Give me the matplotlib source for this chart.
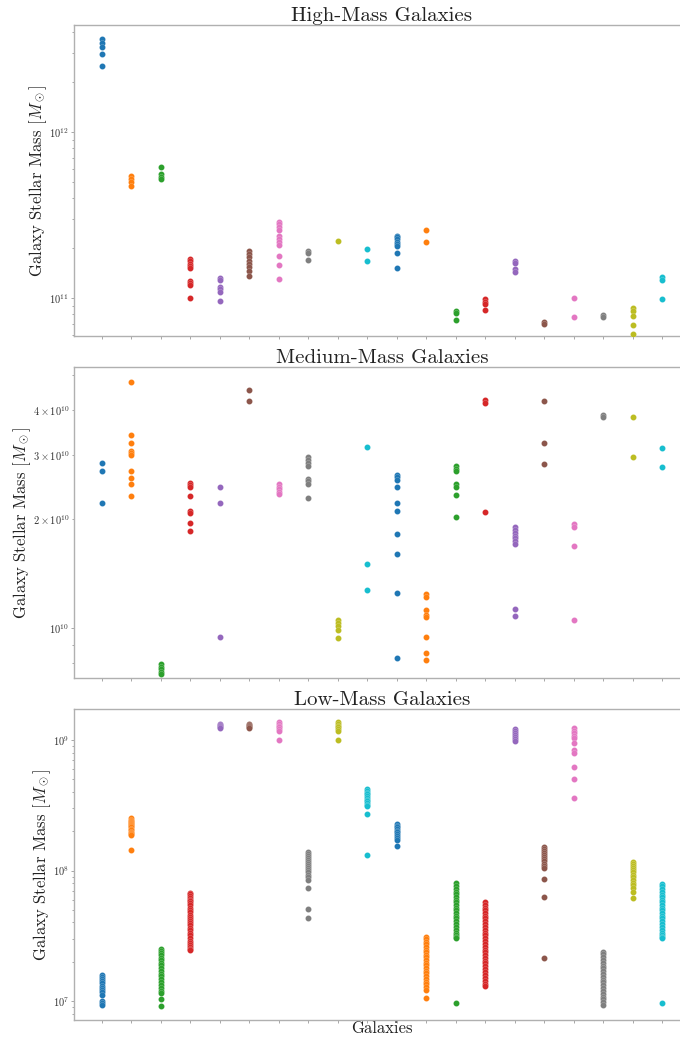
import numpy as np
import matplotlib
matplotlib.use("Agg")
import matplotlib.pyplot as plt

plt.rcParams['font.family'] = 'serif'
plt.rcParams['font.serif'] = ['cmr10', 'DejaVu Serif']
plt.rcParams['mathtext.fontset'] = 'cm'
plt.rcParams['axes.formatter.use_mathtext'] = True
plt.rcParams['axes.unicode_minus'] = False

titles = ["High-Mass Galaxies", "Medium-Mass Galaxies", "Low-Mass Galaxies"]
ylabel = r"Galaxy Stellar Mass [$M_\odot$]"

# stellar masses per galaxy (one list per galaxy)
high_mass = [
    [3.61e12, 3.42e12, 3.27e12, 2.94e12, 2.51e12],
    [5.46e11, 5.19e11, 4.98e11, 4.75e11],
    [6.15e11, 5.58e11, 5.38e11, 5.21e11],
    [1.71e11, 1.66e11, 1.60e11, 1.55e11, 1.51e11, 1.27e11, 1.23e11, 1.19e11, 1.0e11],
    [1.32e11, 1.28e11, 1.16e11, 1.13e11, 1.09e11, 9.6e10],
    [1.92e11, 1.84e11, 1.76e11, 1.68e11, 1.60e11, 1.53e11, 1.46e11, 1.35e11],
    [2.88e11, 2.78e11, 2.68e11, 2.57e11, 2.37e11, 2.28e11, 2.18e11, 2.08e11, 1.79e11, 1.58e11, 1.30e11],
    [1.92e11, 1.86e11, 1.69e11],
    [2.20e11],
    [1.98e11, 1.66e11],
    [2.37e11, 2.32e11, 2.26e11, 2.18e11, 2.11e11, 2.05e11, 1.87e11, 1.52e11],
    [2.57e11, 2.17e11],
    [8.38e10, 8.15e10, 7.36e10],
    [9.82e10, 9.5e10, 9.2e10, 8.43e10],
    [1.68e11, 1.62e11, 1.50e11, 1.44e11],
    [7.15e10, 6.97e10],
    [1.0e11, 7.7e10],
    [7.91e10, 7.72e10],
    [8.67e10, 8.38e10, 7.80e10, 6.90e10, 6.04e10],
    [1.33e11, 1.28e11, 9.86e10],
]

medium_mass = [
    [2.86e10, 2.72e10, 2.21e10],
    [4.78e10, 3.41e10, 3.24e10, 3.09e10, 3.04e10, 3.01e10, 2.72e10, 2.60e10, 2.50e10, 2.31e10],
    [7.94e9, 7.82e9, 7.69e9, 7.56e9, 7.46e9],
    [2.52e10, 2.49e10, 2.45e10, 2.32e10, 2.11e10, 2.08e10, 1.95e10, 1.85e10],
    [2.46e10, 2.22e10, 9.46e9],
    [4.54e10, 4.24e10],
    [2.50e10, 2.46e10, 2.42e10, 2.38e10, 2.34e10],
    [2.97e10, 2.91e10, 2.86e10, 2.81e10, 2.58e10, 2.54e10, 2.50e10, 2.29e10],
    [1.05e10, 1.03e10, 1.01e10, 9.87e9, 9.36e9],
    [3.16e10, 1.50e10, 1.27e10],
    [2.64e10, 2.61e10, 2.57e10, 2.46e10, 2.21e10, 2.11e10, 1.82e10, 1.60e10, 1.25e10, 8.28e9],
    [1.24e10, 1.22e10, 1.12e10, 1.09e10, 1.07e10, 9.46e9, 8.51e9, 8.15e9],
    [2.80e10, 2.75e10, 2.71e10, 2.50e10, 2.46e10, 2.33e10, 2.03e10],
    [4.26e10, 4.19e10, 2.09e10],
    [1.90e10, 1.86e10, 1.83e10, 1.80e10, 1.77e10, 1.74e10, 1.71e10, 1.13e10, 1.08e10],
    [4.24e10, 3.24e10, 2.83e10],
    [1.94e10, 1.90e10, 1.69e10, 1.05e10],
    [3.88e10, 3.82e10],
    [3.82e10, 2.97e10],
    [3.14e10, 2.79e10],
]

low_mass = [
    [1.57e7, 1.52e7, 1.47e7, 1.42e7, 1.37e7, 1.31e7, 1.26e7, 1.21e7, 1.17e7, 1.12e7, 1.0e7, 9.7e6, 9.4e6],
    [2.51e8, 2.46e8, 2.42e8, 2.37e8, 2.33e8, 2.28e8, 2.24e8, 2.19e8, 2.14e8, 2.09e8, 2.04e8, 1.99e8,
     1.94e8, 1.90e8, 1.87e8, 1.45e8],
    [2.52e7, 2.42e7, 2.33e7, 2.24e7, 2.15e7, 2.06e7, 1.97e7, 1.88e7, 1.79e7, 1.70e7, 1.62e7, 1.55e7,
     1.47e7, 1.40e7, 1.33e7, 1.26e7, 1.20e7, 1.16e7, 1.03e7, 9.2e6],
    [6.76e7, 6.6e7, 6.4e7, 6.2e7, 6.0e7, 5.8e7, 5.6e7, 5.4e7, 5.2e7, 5.0e7, 4.8e7, 4.6e7, 4.4e7,
     4.25e7, 4.1e7, 3.95e7, 3.8e7, 3.65e7, 3.5e7, 3.35e7, 3.2e7, 3.05e7, 2.9e7, 2.8e7, 2.7e7, 2.6e7,
     2.52e7, 2.46e7],
    [1.34e9, 1.31e9, 1.28e9, 1.26e9, 1.24e9],
    [1.34e9, 1.31e9, 1.29e9, 1.26e9, 1.24e9],
    [1.37e9, 1.33e9, 1.29e9, 1.25e9, 1.21e9, 1.18e9, 1.0e9],
    [1.39e8, 1.34e8, 1.29e8, 1.25e8, 1.21e8, 1.17e8, 1.13e8, 1.09e8, 1.05e8, 1.01e8, 9.7e7, 9.3e7,
     8.9e7, 8.45e7, 7.3e7, 5.05e7, 4.3e7],
    [1.37e9, 1.33e9, 1.29e9, 1.25e9, 1.21e9, 1.18e9, 1.0e9],
    [4.19e8, 4.07e8, 3.95e8, 3.83e8, 3.72e8, 3.6e8, 3.5e8, 3.4e8, 3.3e8, 3.2e8, 3.12e8, 2.7e8, 1.31e8],
    [2.26e8, 2.2e8, 2.14e8, 2.08e8, 2.02e8, 1.96e8, 1.9e8, 1.84e8, 1.78e8, 1.71e8, 1.53e8],
    [3.11e7, 2.98e7, 2.85e7, 2.72e7, 2.6e7, 2.48e7, 2.37e7, 2.26e7, 2.16e7, 2.06e7, 1.97e7, 1.88e7,
     1.79e7, 1.71e7, 1.63e7, 1.55e7, 1.48e7, 1.41e7, 1.34e7, 1.27e7, 1.21e7, 1.05e7],
    [7.98e7, 7.6e7, 7.25e7, 6.9e7, 6.6e7, 6.3e7, 6.0e7, 5.7e7, 5.45e7, 5.2e7, 4.95e7, 4.7e7, 4.5e7,
     4.3e7, 4.1e7, 3.9e7, 3.7e7, 3.5e7, 3.35e7, 3.2e7, 3.1e7, 3.02e7, 9.6e6],
    [5.7e7, 5.45e7, 5.2e7, 4.95e7, 4.7e7, 4.5e7, 4.3e7, 4.1e7, 3.9e7, 3.7e7, 3.5e7, 3.35e7, 3.2e7,
     3.05e7, 2.9e7, 2.75e7, 2.6e7, 2.48e7, 2.36e7, 2.25e7, 2.14e7, 2.04e7, 1.94e7, 1.84e7, 1.75e7,
     1.66e7, 1.58e7, 1.5e7, 1.42e7, 1.36e7, 1.3e7],
    [1.21e9, 1.17e9, 1.13e9, 1.09e9, 1.05e9, 1.02e9, 9.9e8],
    [1.52e8, 1.47e8, 1.42e8, 1.37e8, 1.32e8, 1.27e8, 1.22e8, 1.18e8, 1.13e8, 1.09e8, 1.04e8, 8.6e7,
     6.3e7, 2.15e7],
    [1.23e9, 1.18e9, 1.13e9, 1.07e9, 1.03e9, 9.5e8, 8.4e8, 8.0e8, 6.2e8, 5.0e8, 3.57e8],
    [2.39e7, 2.28e7, 2.17e7, 2.07e7, 1.97e7, 1.87e7, 1.78e7, 1.70e7, 1.62e7, 1.54e7, 1.46e7, 1.39e7,
     1.32e7, 1.25e7, 1.19e7, 1.13e7, 1.08e7, 1.03e7, 9.8e6, 9.3e6],
    [1.17e8, 1.13e8, 1.09e8, 1.05e8, 1.01e8, 9.7e7, 9.3e7, 8.9e7, 8.5e7, 8.1e7, 7.7e7, 7.3e7, 6.9e7, 6.2e7],
    [7.95e7, 7.55e7, 7.2e7, 6.85e7, 6.55e7, 6.25e7, 5.95e7, 5.7e7, 5.45e7, 5.2e7, 4.95e7, 4.7e7, 4.5e7,
     4.3e7, 4.1e7, 3.9e7, 3.7e7, 3.5e7, 3.35e7, 3.2e7, 3.1e7, 3.02e7, 9.6e6],
]

panels = [high_mass, medium_mass, low_mass]
ylims = [(5.9e10, 4.41e12), (7.28e9, 5.26e10), (7.15e6, 1.73e9)]
bottoms = [0.6769, 0.3481, 0.0192]

fig = plt.figure(figsize=(6.8, 10.4), dpi=100)

for k, data in enumerate(panels):
    ax = fig.add_axes([0.1088, bottoms[k], 0.906, 0.299])
    for i, vals in enumerate(data):
        ax.scatter([i] * len(vals), vals, color=f"C{i % 10}", s=19,
                   edgecolors="white", linewidths=0.12, zorder=3)
    ax.set_yscale("log")
    ax.set_xlim(-0.95, 19.95)
    ax.set_ylim(*ylims[k])
    ax.set_xticks(range(20))
    ax.set_xticklabels([])
    ax.set_title(titles[k], fontsize=15, pad=3, color="#222222")
    ax.set_ylabel(ylabel, fontsize=12, labelpad=0, color="#222222")
    for s in ax.spines.values():
        s.set_color("#b0b0b0")
        s.set_linewidth(1.0)
    ax.tick_params(axis="both", which="both", colors="#999999", labelcolor="#333333",
                   labelsize=7.5, length=2.5, width=0.6, pad=1)
    ax.tick_params(axis="y", which="minor", length=1.8)

ax.set_xlabel("Galaxies", fontsize=12, labelpad=-3, color="#222222")

fig.savefig("out.png", dpi=100)
